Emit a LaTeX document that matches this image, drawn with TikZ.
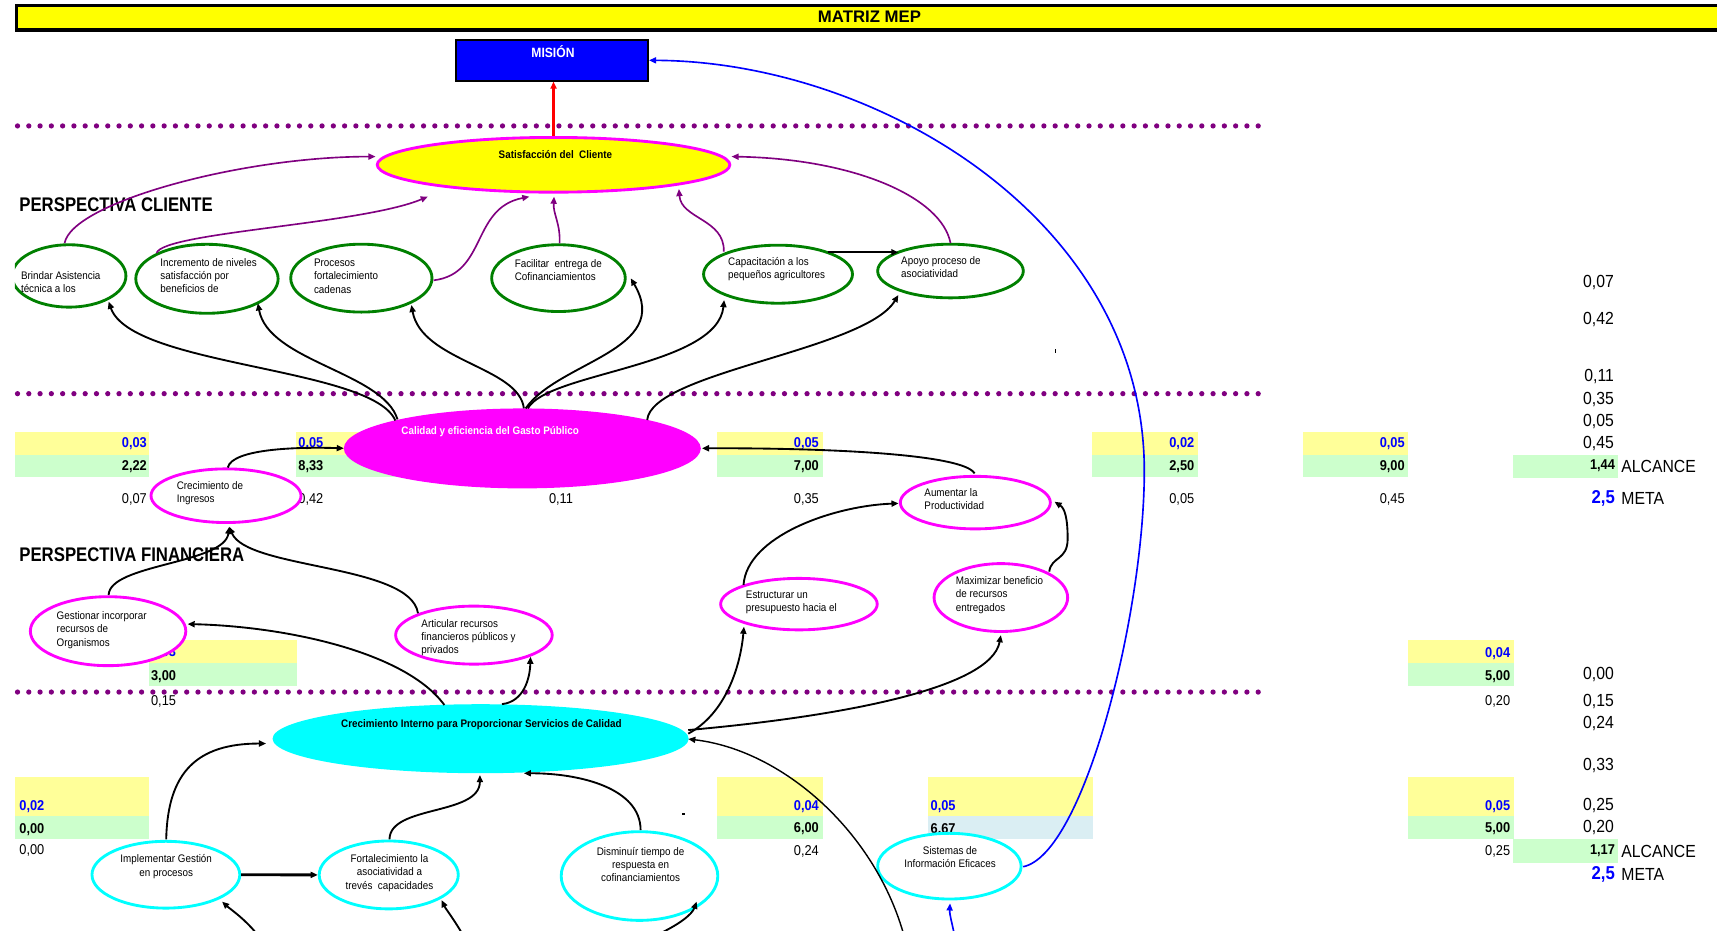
\documentclass[tikz,border=0pt]{standalone}
\usepackage{fontspec}
\setmainfont{Liberation Sans}
\newfontfamily\nar[FakeStretch=0.9]{Liberation Sans}
\newfontfamily\narx[FakeStretch=0.85]{Liberation Sans}
\usetikzlibrary{shapes.geometric,arrows.meta,calc}

\definecolor{mepyellow}{RGB}{255,255,0}
\definecolor{mepmag}{RGB}{255,0,255}
\definecolor{mepcyan}{RGB}{0,255,255}
\definecolor{mepgreen}{RGB}{0,128,0}
\definecolor{meppurple}{RGB}{128,0,128}
\definecolor{mepblue}{RGB}{0,0,255}
\definecolor{cellyel}{RGB}{255,255,153}
\definecolor{cellgrn}{RGB}{204,255,204}
\definecolor{cellblu}{RGB}{218,238,243}

\newcommand{\fcell}{\nar\fontsize{13}{15}\selectfont}
\newcommand{\fcol}{\nar\fontsize{16}{18}\selectfont}
\newcommand{\fobj}{\nar\fontsize{10}{12}\selectfont}
\newcommand{\fhead}{\narx\bfseries\fontsize{18}{20}\selectfont}

\begin{document}
\begin{tikzpicture}[x=1pt,y=-1pt,
  blueR/.style={font=\fcell\bfseries, text=mepblue, inner sep=0, anchor=east},
  blueL/.style={font=\fcell\bfseries, text=mepblue, inner sep=0, anchor=west},
  boldR/.style={font=\fcell\bfseries, inner sep=0, anchor=east},
  boldL/.style={font=\fcell\bfseries, inner sep=0, anchor=west},
  plainR/.style={font=\fcell, inner sep=0, anchor=east},
  plainL/.style={font=\fcell, inner sep=0, anchor=west},
  colval/.style={font=\fcol, inner sep=0, anchor=east},
  collab/.style={font=\fcol, inner sep=0, anchor=west},
  metaval/.style={font=\nar\bfseries\fontsize{17}{19}\selectfont, text=mepblue, inner sep=0, anchor=east},
  head/.style={font=\fhead, inner sep=0, anchor=base west},
  objtxt/.style={font=\fobj, align=left, anchor=north west, inner sep=0},
  objtxtc/.style={font=\fobj, align=center, anchor=north, inner sep=0},
  objtitle/.style={font=\nar\bfseries\fontsize{10}{12}\selectfont, inner sep=0},
  greenobj/.style={ellipse, draw=mepgreen, line width=2.6pt, fill=white, inner sep=0},
  magobj/.style={ellipse, draw=mepmag, line width=2.6pt, fill=white, inner sep=0},
  cyanobj/.style={ellipse, draw=mepcyan, line width=2.6pt, fill=white, inner sep=0},
  link/.style={line width=1.7pt, -{Triangle[length=6.5pt,width=5.5pt]}},
  plink/.style={draw=meppurple, line width=1.5pt, -{Triangle[length=6.5pt,width=5.5pt]}},
  blink/.style={draw=mepblue, line width=1.5pt, -{Triangle[length=6.5pt,width=5.5pt]}},
  dotrow/.style={draw=meppurple, line width=4.8pt, line cap=round, dash pattern=on 0pt off 10.3pt}
]
\fill[white] (0,0) rectangle (1568,850);
\useasboundingbox (0,0) rectangle (1568,850);
\clip (13.5,0) rectangle (1568,850);

% ---------- worksheet cells ----------
\foreach \xa/\xb in {13.5/136.3, 270.5/380, 654.8/751.2, 997.4/1093.8, 1189.6/1285.8} {
  \fill[cellyel] (\xa,394.2) rectangle (\xb,415.5);
  \fill[cellgrn] (\xa,415.5) rectangle (\xb,435.3);
}
\fill[cellgrn] (1381.7,415.5) rectangle (1478,436.2);
\foreach \xa/\xb in {136.3/271.5, 1285.8/1382.6} {
  \fill[cellyel] (\xa,584.5) rectangle (\xb,605.2);
  \fill[cellgrn] (\xa,605.2) rectangle (\xb,626.5);
}
\foreach \xa/\xb in {13.5/136.3, 654.8/751.2, 1285.8/1382.6} {
  \fill[cellyel] (\xa,709.9) rectangle (\xb,745.2);
  \fill[cellgrn] (\xa,745.2) rectangle (\xb,766.2);
}
\fill[cellyel] (847.4,709.9) rectangle (998,745.2);
\fill[cellblu] (847.4,745.2) rectangle (998,766.2);
\fill[cellgrn] (1381.7,766.2) rectangle (1478,787.8);

% ---------- cell values ----------
\foreach \x/\y/\t [count=\i] in {134.3/404.9/{0,03}, 295.5/404.9/{0,05}, 748/404.9/{0,05},
    1090.8/404.9/{0,02}, 1283/404.9/{0,05}, 1379.3/596.7/{0,04}, 748/736.7/{0,04}, 1379.3/736.7/{0,05}}
  \node[blueR] (wr\i) at (\x,\y) {\t};
\foreach \x/\y/\t [count=\i] in {137.8/596/{0,03}, 17.5/736.7/{0,02}, 849.7/736.7/{0,05}}
  \node[blueL] (wl\i) at (\x,\y) {\t};
\foreach \x/\y/\t [count=\i] in {134.3/426/{2,22}, 295.5/426/{8,33}, 748/426/{7,00}, 1090.8/426/{2,50},
    1283/426/{9,00}, 1475/425.6/{1,44}, 1379.3/618/{5,00}, 748/756.5/{6,00}, 1379.3/756.5/{5,00}, 1475/777.2/{1,17}}
  \node[boldR] (br\i) at (\x,\y) {\t};
\foreach \x/\y/\t [count=\i] in {137.8/618/{3,00}, 17.5/757.4/{0,00}, 849.7/757.5/{6,67}}
  \node[boldL] (bl\i) at (\x,\y) {\t};
\foreach \x/\y/\t [count=\i] in {134.3/455.7/{0,07}, 295.5/455.7/{0,42}, 523.5/455.7/{0,11}, 748/455.7/{0,35},
    1090.8/455.7/{0,05}, 1283/455.7/{0,45}, 1379.3/640.8/{0,20}, 748/777.8/{0,24}, 1379.3/777.2/{0,25}}
  \node[plainR] (pr\i) at (\x,\y) {\t};
\foreach \x/\y/\t [count=\i] in {137.8/640.8/{0,15}, 17.5/776.9/{0,00}}
  \node[plainL] (pl\i) at (\x,\y) {\t};
\foreach \y/\t [count=\i] in {258.1/{0,07}, 292.2/{0,42}, 343.4/{0,11}, 364.7/{0,35}, 384.5/{0,05}, 404.9/{0,45},
    616.4/{0,00}, 640.8/{0,15}, 660.6/{0,24}, 699.5/{0,33}, 735.2/{0,25}, 755.5/{0,20}}
  \node[colval] (cv\i) at (1474,\y) {\t};
\node[collab] (alc1) at (1480.5,425.6) {ALCANCE};
\node[collab] (met1) at (1480.5,455) {META};
\node[metaval] (mv1) at (1475,455) {2,5};
\node[collab] (alc2) at (1480.5,777.2) {ALCANCE};
\node[collab] (met2) at (1480.5,799) {META};
\node[metaval] (mv2) at (1475,799) {2,5};

% stray marks in the sheet
\fill (963.5,318.5) rectangle (964.7,322.5);
\fill (622.5,742.6) rectangle (625.5,744.2);
\fill (550,831.5) rectangle (552.2,835.5);

% ---------- headings ----------
\node[head] (hcli) at (17.5,193) {PERSPECTIVA CLIENTE};
\node[head] (hfin) at (17.5,513) {PERSPECTIVA FINANCIERA};

% ---------- perspective separators ----------
\foreach \y in {115,359.5,632}
  \draw[dotrow] (16,\y) -- (1155,\y);

% ---------- title bar and mission ----------
\fill[black] (13.5,4) rectangle (1580,29);
\fill[mepyellow] (16,6.2) rectangle (1580,25.4);
\node[font=\bfseries\fontsize{15.3}{17}\selectfont, inner sep=0] (title) at (794,15.5) {MATRIZ MEP};
\node[draw=black, line width=1.8pt, fill=mepblue, minimum width=175pt, minimum height=37pt, inner sep=0] (mision) at (504.25,55.1) {};
\node[font=\nar\bfseries\fontsize{12.3}{14}\selectfont, text=white, inner sep=0] (misiont) at (505,47.2) {MISIÓN};

% ---------- objectives ----------
\node[ellipse, draw=mepmag, fill=mepyellow, line width=2.6pt, minimum width=322pt, minimum height=50pt, inner sep=0] (sat) at (505.5,150.5) {};
\node[greenobj, minimum width=104pt, minimum height=57pt] (brindar) at (63,252) {};
\node[greenobj, minimum width=130pt, minimum height=63pt] (incr) at (189,254.6) {};
\node[greenobj, minimum width=129pt, minimum height=62pt] (proc) at (330,254) {};
\node[greenobj, minimum width=122pt, minimum height=61pt] (facil) at (510,254) {};
\node[greenobj, minimum width=136pt, minimum height=53pt] (capac) at (710.5,250.4) {};
\node[greenobj, minimum width=133pt, minimum height=49pt] (apoyo) at (868,247.5) {};
\node[ellipse, fill=mepmag, minimum width=326pt, minimum height=73pt, inner sep=0] (calidad) at (477,409.5) {};
\node[magobj, minimum width=137pt, minimum height=49pt] (ingresos) at (206.4,452.7) {};
\node[magobj, minimum width=142pt, minimum height=63pt] (gestionar) at (98.7,576.4) {};
\node[magobj, minimum width=143pt, minimum height=53pt] (articular) at (432.8,580) {};
\node[magobj, minimum width=143pt, minimum height=47pt] (estruct) at (729.6,551.7) {};
\node[magobj, minimum width=137pt, minimum height=48pt] (aumentar) at (890.7,459) {};
\node[magobj, minimum width=122pt, minimum height=62pt] (maximizar) at (914,545.7) {};
\node[ellipse, fill=mepcyan, minimum width=380pt, minimum height=63pt, inner sep=0] (interno) at (438.9,674.6) {};
\node[cyanobj, minimum width=135pt, minimum height=61pt] (implementar) at (151.5,798.8) {};
\node[cyanobj, minimum width=127pt, minimum height=62pt] (fortal) at (355,799) {};
\node[cyanobj, minimum width=143pt, minimum height=81pt] (disminuir) at (584,800) {};
\node[cyanobj, minimum width=131pt, minimum height=60pt] (sistemas) at (867,791) {};

% ---------- connectors ----------
\draw[red, line width=2.4pt, -{Triangle[length=6.5pt,width=5.5pt]}] (sat.north) -- (sat.north |- mision.south);

% client objectives towards customer satisfaction
\draw[plink] ($(brindar)+(-4,-30)$) .. controls (66,185) and (220,143) .. ($(sat)+(-162.5,-7.5)$);
\draw[plink] ($(incr)+(-46,-23.6)$) .. controls (150,212) and (330,205) .. ($(sat)+(-114.8,29.1)$);
\draw[plink] ($(proc)+(66,2)$) .. controls (445,250) and (430,190) .. ($(sat)+(-22.1,29.1)$);
\draw[plink] ($(facil)+(1,-31.8)$) .. controls (512,205) and (505,195) .. ($(sat)+(0.5,29.1)$);
\draw[plink] ($(capac)+(-49.5,-20.6)$) .. controls (662,200) and (622,200) .. ($(sat)+(114.5,22.1)$);
\draw[plink] ($(apoyo)+(0,-25.5)$) .. controls (860,180) and (780,145) .. ($(sat)+(162.5,-7.5)$);
\draw[line width=2.2pt, -{Triangle[length=6.5pt,width=5.5pt]}] ($(capac)+(45.9,-20)$) -- ($(apoyo)+(-47.6,-17.1)$);

% public spending quality towards client objectives
\draw[link] ($(calidad)+(-116,-25.5)$) .. controls (340,335) and (120,335) .. ($(brindar)+(36.2,23.5)$);
\draw[link] ($(calidad)+(-114,-26.5)$) .. controls (350,340) and (245,330) .. ($(incr)+(46.5,22.4)$);
\draw[link] ($(calidad)+(1.4,-36.6)$) .. controls (474,335) and (385,330) .. ($(proc)+(45.7,24.5)$);
\draw[link] ($(calidad)+(3,-36.5)$) .. controls (510,330) and (615,320) .. ($(facil)+(66,0.2)$);
\draw[link] ($(calidad)+(5,-36.5)$) .. controls (500,340) and (655,335) .. ($(capac)+(-49.2,23.6)$);
\draw[link] ($(calidad)+(114,-25.9)$) .. controls (595,340) and (790,320) .. ($(apoyo)+(-47.6,21.9)$);
\draw[link] ($(ingresos)+(1.6,-25.7)$) .. controls (212,410) and (270,408) .. ($(calidad)+(-163,-0.1)$);
\draw[link] ($(aumentar)+(-0.7,-26.7)$) .. controls (880,415) and (760,409) .. ($(calidad)+(164,-0.1)$);

% financial objectives
\draw[link] ($(gestionar)+(0.5,-33)$) .. controls (100,515) and (205,515) .. ($(ingresos)+(3,28.3)$);
\draw[link] ($(articular)+(-51.1,-20)$) .. controls (375,515) and (225,520) .. ($(ingresos)+(3,28.3)$);
\draw[link] ($(estruct)+(-50.6,-17.5)$) .. controls (682,490) and (760,462) .. ($(aumentar)+(-70.1,0.7)$);
\draw[link] ($(maximizar)+(44.2,-23.7)$) .. controls (960,508) and (975,512) .. (975,492)
            .. controls (975,472) and (972,464) .. ($(aumentar)+(72.3,-0.8)$);

% internal growth towards financial objectives
\draw[link] ($(interno)+(-33.1,-30.8)$) .. controls (370,595) and (260,572) .. ($(gestionar)+(72.6,-6.5)$);
\draw[link] ($(interno)+(19.5,-31.6)$) .. controls (478,641) and (484,620) .. ($(articular)+(51.6,19.7)$);
\draw[link] ($(interno)+(189.6,-4.6)$) .. controls (662,652) and (676,610) .. ($(estruct)+(-50.2,20.6)$);
\draw[link] ($(interno)+(189.6,-7.9)$) .. controls (760,655) and (905,630) .. ($(maximizar)+(0,34.3)$);
\coordinate (lowA) at (826,856);
\draw[line width=1.3pt, -{Triangle[length=6.5pt,width=5.5pt]}] (lowA) .. controls (800,760) and (715,685) .. ($(interno)+(189.6,0.3)$);

% learning objectives
\draw[link] ($(implementar)+(0.3,-32.3)$) .. controls (153,705) and (180,679) .. ($(interno)+(-195.9,4.4)$);
\draw[line width=2.6pt, -{Triangle[length=6.5pt,width=5.5pt]}] (implementar.east) -- (fortal.west);
\draw[link] ($(fortal)+(0.7,-32.5)$) .. controls (356,735) and (438,745) .. ($(interno)+(-0.6,33.2)$);
\draw[link] ($(disminuir)+(1,-42)$) .. controls (585,720) and (530,706) .. ($(interno)+(39.5,31.6)$);
\draw[blink] ($(sistemas)+(67.4,0.5)$) .. controls (990,780) and (1045,560) .. (1045,430)
            .. controls (1045,200) and (800,56) .. (mision.east);
\coordinate (lowB) at (872,856);
\draw[blink] (lowB) .. controls (870,845) and (867,835) .. ($(sistemas)+(0.6,34)$);
\coordinate (lowC) at (237,856);
\coordinate (lowD) at (424,856);
\coordinate (lowE) at (595,856);
\draw[link] (lowC) .. controls (225,840) and (210,830) .. ($(implementar)+(51.3,24.6)$);
\draw[link] (lowD) .. controls (415,840) and (407,830) .. ($(fortal)+(48.3,23)$);
\draw[link] (lowE) .. controls (620,845) and (632,835) .. ($(disminuir)+(52.2,23.4)$);

% ---------- texts of the objectives ----------
\node[objtitle] (satt) at (507.2,140.9) {Satisfacción del\ \ Cliente};
\node[objtitle, text=white] (calidadt) at (447.6,394.2) {Calidad y eficiencia del Gasto Público};
\node[objtitle] (internot) at (439.6,661.5) {Crecimiento Interno para Proporcionar Servicios de Calidad};
\node[objtxt] (brindart) at (19,248) {Brindar Asistencia\\técnica a los};
\node[objtxt] (incrt) at (146.3,236) {Incremento de niveles\\satisfacción por\\beneficios de};
\node[objtxt] (proct) at (286.6,236.5) {Procesos\\fortalecimiento\\cadenas};
\node[objtxt] (facilt) at (469.9,236.5) {Facilitar\ \ entrega de\\Cofinanciamientos};
\node[objtxt] (capact) at (664.8,235) {Capacitación a los\\pequeños agricultores};
\node[objtxt] (apoyot) at (822.8,234.4) {Apoyo proceso de\\asociatividad};
\node[objtxt] (ingresost) at (161.3,439.8) {Crecimiento de\\Ingresos};
\node[objtxt] (gestionart) at (51.6,558.6) {Gestionar incorporar\\recursos de\\Organismos};
\node[objtxt] (articulart) at (384.7,565.2) {Articular recursos\\financieros públicos y\\privados};
\node[objtxt] (estructt) at (681,539.4) {Estructurar un\\presupuesto hacia el};
\node[objtxt] (aumentart) at (844,445.6) {Aumentar la\\Productividad};
\node[objtxt] (maximizart) at (872.8,526.6) {Maximizar beneficio\\de recursos\\entregados};
\node[objtxtc] (implementart) at (151.8,780.5) {Implementar Gestión\\en procesos};
\node[objtxtc] (fortalt) at (355.7,780.5) {Fortalecimiento la\\asociatividad a\\trevés\ \ capacidades};
\node[objtxtc] (disminuirt) at (585,773.8) {Disminuír tiempo de\\respuesta en\\cofinanciamientos};
\node[objtxtc] (sistemast) at (867.6,773.2) {Sistemas de\\Información Eficaces};
\end{tikzpicture}
\end{document}
